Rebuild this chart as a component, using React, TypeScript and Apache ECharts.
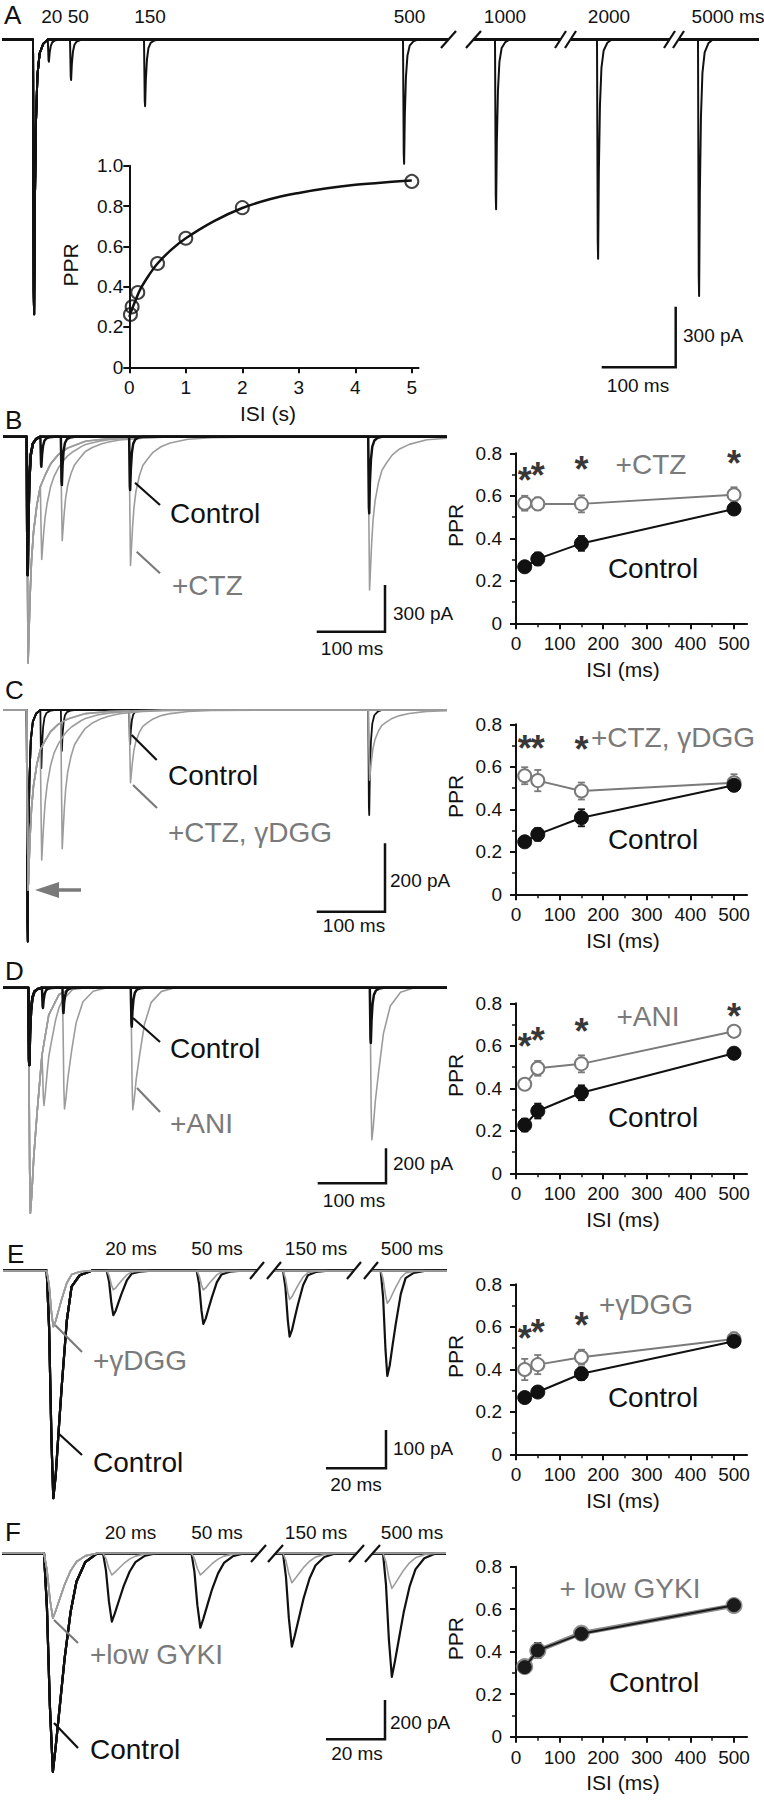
import React, { useEffect, useRef } from "react";
import * as echarts from "echarts";

const FONT = '"Liberation Sans", Arial, Helvetica, sans-serif';
const INK = "#111111";
const GREY_TXT = "#7a7a7a";
const GREY_TRACE = "#9c9c9c";
const GREY_MARK = "#7a7a7a";

/* ======================= DATA ======================= */
// Panel A inset: PPR vs ISI (s)
const aIsiS = [0.02, 0.05, 0.15, 0.5, 1, 2, 5];
const aPpr = [0.262, 0.3, 0.371, 0.515, 0.64, 0.792, 0.922];
const aFitIsiS = [0, 0.05, 0.1, 0.2, 0.35, 0.5, 0.75, 1, 1.5, 2, 2.5, 3, 3.5, 4, 4.5, 5];
const aFitPpr = [0.25, 0.29, 0.325, 0.39, 0.458, 0.515, 0.585, 0.64, 0.725, 0.79, 0.835, 0.865, 0.888, 0.905, 0.917, 0.926];
const aXTicksS = [0, 1, 2, 3, 4, 5];
const aYTicks = [0, 0.2, 0.4, 0.6, 0.8, 1.0];

// Panels B-F: PPR vs ISI (ms)
const pprIsiMs = [20, 50, 150, 500];
const pprXTicks = [0, 100, 200, 300, 400, 500];
const pprXMinor = [50, 150, 250, 350, 450];
const pprYTicks = [0, 0.2, 0.4, 0.6, 0.8];
const pprYMinor = [0.1, 0.3, 0.5, 0.7];

const bCtrl = [0.266, 0.303, 0.376, 0.538];
const bCtrlErr = [0.015, 0.03, 0.035, 0.02];
const bCtz = [0.565, 0.562, 0.562, 0.605];
const bCtzErr = [0.035, 0.03, 0.04, 0.035];
const bStars = [[20, 0.71], [50, 0.735], [150, 0.76], [500, 0.79]];

const cCtrl = [0.247, 0.282, 0.36, 0.513];
const cCtrlErr = [0.015, 0.03, 0.04, 0.025];
const cCtzDgg = [0.558, 0.535, 0.486, 0.525];
const cCtzDggErr = [0.04, 0.05, 0.04, 0.04];
const cStars = [[20, 0.723], [50, 0.723], [150, 0.718]];

const dCtrl = [0.227, 0.293, 0.379, 0.565];
const dCtrlErr = [0.03, 0.035, 0.035, 0.025];
const dAni = [0.419, 0.494, 0.515, 0.668];
const dAniErr = [0.015, 0.035, 0.04, 0.015];
const dStars = [[20, 0.635], [50, 0.663], [150, 0.706], [500, 0.776]];

const eCtrl = [0.267, 0.293, 0.379, 0.532];
const eCtrlErr = [0.02, 0.02, 0.03, 0.02];
const eDgg = [0.399, 0.422, 0.457, 0.543];
const eDggErr = [0.05, 0.045, 0.035, 0.03];
const eStars = [[20, 0.582], [50, 0.613], [150, 0.644]];

const fCtrl = [0.327, 0.406, 0.484, 0.619];
const fCtrlErr = [0.025, 0.035, 0.02, 0.02];
const fGyki = [0.33, 0.405, 0.487, 0.617];
const fGykiErr = [0.03, 0.035, 0.02, 0.02];

// Example traces: peak amplitudes (pA)
const aTraceIsiMs = [20, 50, 150, 500, 1000, 2000, 5000];
const aFirstPa = 1360;
const aSecondPa = [110, 200, 330, 615, 840, 1085, 1270];

const bFirstCtrlPa = 889;
const bSecondCtrlPa = [193, 311, 343, 492];
const bFirstCtzPa = 1455;
const bSecondCtzPa = [490, 570, 820, 985];

const cFirstCtrlPa = 677;
const cSecondCtrlPa = [170, 120, 100, 307];
const cFirstDrugPa = 526;
const cSecondDrugPa = [330, 370, 210, 205];

const dFirstCtrlPa = 442;
const dSecondCtrlPa = [116, 145, 223, 316];
const dFirstAniPa = 1289;
const dSecondAniPa = [356, 670, 697, 869];

const eFirstCtrlPa = 594;
const eSecondCtrlPa = [116, 139, 172, 275];
const eFirstDggPa = 146;
const eSecondDggPa = [50, 50, 75, 85];

const fFirstCtrlPa = 1109;
const fSecondCtrlPa = [347, 378, 474, 627];
const fFirstGykiPa = 330;
const fSecondGykiPa = [110, 110, 149, 178];

// EPSC time courses: ms after stimulus, fraction of peak
const kinFastT = [0, 0.5, 1, 1.5, 2.5, 4, 6, 9, 14, 20];
const kinFastF = [0, 0.45, 0.92, 1, 0.6, 0.3, 0.13, 0.05, 0.015, 0];
const kinCtzT = [0, 1, 2, 3, 5, 7, 10, 15, 20, 27, 35, 46, 60, 86, 120, 200];
const kinCtzF = [0, 0.55, 1, 0.9, 0.7, 0.55, 0.42, 0.3, 0.22, 0.17, 0.12, 0.08, 0.05, 0.02, 0.008, 0];
const kinAniT = [0, 1, 2, 3, 5, 8, 13, 20, 30, 45, 65];
const kinAniF = [0, 0.35, 0.8, 1, 0.92, 0.75, 0.55, 0.3, 0.12, 0.03, 0];
const kinET = [0, 0.8, 1.6, 2.2, 3, 4, 5, 6.7, 8.3, 11, 15];
const kinEF = [0, 0.25, 0.75, 1, 0.9, 0.7, 0.51, 0.22, 0.07, 0.02, 0];
const kinFT = [0, 1, 2, 3, 4, 5.5, 7, 9, 11, 14, 18];
const kinFF = [0, 0.25, 0.7, 1, 0.88, 0.68, 0.48, 0.27, 0.13, 0.04, 0];

// Scale bars [pA, ms]
const scaleA = [300, 100];
const scaleB = [300, 100];
const scaleC = [200, 100];
const scaleD = [200, 100];
const scaleE = [100, 20];
const scaleF = [200, 20];

/* ======================= HELPERS ======================= */
type Kin = { t: number[]; f: number[] };
const KIN_FAST: Kin = { t: kinFastT, f: kinFastF };
const KIN_CTZ: Kin = { t: kinCtzT, f: kinCtzF };
const KIN_ANI: Kin = { t: kinAniT, f: kinAniF };
const KIN_E: Kin = { t: kinET, f: kinEF };
const KIN_F: Kin = { t: kinFT, f: kinFF };

function interp(k: Kin, dt: number) {
  const n = k.t.length;
  if (dt <= k.t[0] || dt >= k.t[n - 1]) return 0;
  for (let i = 1; i < n; i++) {
    if (dt <= k.t[i]) {
      const a = (dt - k.t[i - 1]) / (k.t[i] - k.t[i - 1]);
      return k.f[i - 1] + a * (k.f[i] - k.f[i - 1]);
    }
  }
  return 0;
}

function sweep(k: Kin, events: number[][], tMin: number, tMax: number) {
  const set = new Set<number>([tMin, tMax]);
  events.forEach(([t0]) => k.t.forEach((dt) => set.add(t0 + dt)));
  const ts = Array.from(set).filter((t) => t >= tMin && t <= tMax).sort((a, b) => a - b);
  return ts.map((t) => [t, -events.reduce((s, [t0, amp]) => s + amp * interp(k, t - t0), 0)]);
}

type Seg = { left: number; right: number; refT: number; refPx: number };
type TraceLayout = { baseY: number; pxPerPa: number; pxPerMs: number; padTop: number; padBottom: number; segs: Seg[] };
type Cond = { kin: Kin; first: number; seconds: number[]; isis: number[]; color: string; width: number; z: number };

function text(x: number, y: number, s: string, size: number, color = INK, align = "center", rot = 0) {
  return {
    type: "text",
    x,
    y,
    rotation: rot,
    silent: true,
    z: 20,
    style: {
      text: s,
      x: 0,
      y: 0,
      fill: color,
      font: `${size}px ${FONT}`,
      textAlign: align,
      textVerticalAlign: "middle",
      align,
      verticalAlign: "middle",
    },
  };
}
function line(x1: number, y1: number, x2: number, y2: number, color = INK, w = 2.2) {
  return { type: "line", silent: true, z: 20, shape: { x1, y1, x2, y2 }, style: { stroke: color, lineWidth: w } };
}
function poly(pts: number[][], color = INK, w = 2.5) {
  return { type: "polyline", silent: true, z: 20, shape: { points: pts }, style: { stroke: color, lineWidth: w, fill: "none" } };
}

function buildOption() {
  const grid: any[] = [];
  const xAxis: any[] = [];
  const yAxis: any[] = [];
  const series: any[] = [];
  const graphic: any[] = [];

  const addTraces = (L: TraceLayout, conds: Cond[]) => {
    L.segs.forEach((s) => {
      const gi = grid.length;
      const tMin = s.refT + (s.left - s.refPx) / L.pxPerMs;
      const tMax = s.refT + (s.right - s.refPx) / L.pxPerMs;
      grid.push({
        left: s.left,
        width: s.right - s.left,
        top: L.baseY - L.padTop * L.pxPerPa,
        height: (L.padTop + L.padBottom) * L.pxPerPa,
        outerBoundsMode: "none",
      });
      const xi = xAxis.length;
      xAxis.push({ type: "value", gridIndex: gi, min: tMin, max: tMax, show: false });
      const yi = yAxis.length;
      yAxis.push({ type: "value", gridIndex: gi, min: -L.padBottom, max: L.padTop, show: false });
      conds.forEach((c) =>
        c.isis.forEach((isi, k) => {
          series.push({
            type: "line",
            xAxisIndex: xi,
            yAxisIndex: yi,
            data: sweep(c.kin, [[0, c.first], [isi, c.seconds[k]]], tMin, tMax),
            symbol: "none",
            showSymbol: false,
            silent: true,
            clip: true,
            z: c.z,
            lineStyle: { color: c.color, width: c.width, join: "round" },
          });
        })
      );
    });
  };

  const scaleBar = (L: TraceLayout, cx: number, cy: number, bar: number[]) => {
    graphic.push(
      poly([
        [cx, cy - bar[0] * L.pxPerPa],
        [cx, cy],
        [cx - bar[1] * L.pxPerMs, cy],
      ])
    );
  };

  const addPlotAxes = (
    gi: number,
    c: { xMax: number; xTicks: number[]; xMinor?: number[]; yMax: number; yTicks: number[]; yMinor?: number[]; yFmt: (v: number) => string; xMargin: number; yMargin: number }
  ) => {
    const axisLine = { show: true, onZero: false, lineStyle: { color: INK, width: 2 } };
    const lab = { fontSize: 19, fontFamily: FONT, color: INK };
    const xi = xAxis.length;
    xAxis.push({
      type: "value",
      gridIndex: gi,
      position: "bottom",
      min: 0,
      max: c.xMax,
      axisLine,
      splitLine: { show: false },
      axisTick: { show: true, inside: false, length: 6, lineStyle: { color: INK, width: 2 }, customValues: c.xTicks },
      axisLabel: { show: true, customValues: c.xTicks, margin: c.xMargin, ...lab },
    });
    if (c.xMinor)
      xAxis.push({
        type: "value",
        gridIndex: gi,
        position: "bottom",
        min: 0,
        max: c.xMax,
        axisLine: { show: false },
        splitLine: { show: false },
        axisLabel: { show: false },
        axisTick: { show: true, length: 4, lineStyle: { color: INK, width: 1.5 }, customValues: c.xMinor },
      });
    const yi = yAxis.length;
    yAxis.push({
      type: "value",
      gridIndex: gi,
      position: "left",
      min: 0,
      max: c.yMax,
      axisLine,
      splitLine: { show: false },
      axisTick: { show: true, inside: false, length: 6, lineStyle: { color: INK, width: 2 }, customValues: c.yTicks },
      axisLabel: { show: true, customValues: c.yTicks, margin: c.yMargin, formatter: c.yFmt, ...lab },
    });
    if (c.yMinor)
      yAxis.push({
        type: "value",
        gridIndex: gi,
        position: "left",
        min: 0,
        max: c.yMax,
        axisLine: { show: false },
        splitLine: { show: false },
        axisLabel: { show: false },
        axisTick: { show: true, length: 4, lineStyle: { color: INK, width: 1.5 }, customValues: c.yMinor },
      });
    return { xi, yi };
  };

  const errSeries = (xi: number, yi: number, vals: number[], errs: number[], color: string) => ({
    type: "custom",
    xAxisIndex: xi,
    yAxisIndex: yi,
    silent: true,
    z: 3,
    data: pprIsiMs.map((x, i) => [x, vals[i] - errs[i], vals[i] + errs[i]]),
    renderItem: (_p: any, api: any) => {
      const lo = api.coord([api.value(0), api.value(1)]);
      const hi = api.coord([api.value(0), api.value(2)]);
      const cap = 3.5;
      const st = { stroke: color, lineWidth: 1.8 };
      return {
        type: "group",
        children: [
          { type: "line", shape: { x1: lo[0], y1: lo[1], x2: hi[0], y2: hi[1] }, style: st },
          { type: "line", shape: { x1: lo[0] - cap, y1: lo[1], x2: lo[0] + cap, y2: lo[1] }, style: st },
          { type: "line", shape: { x1: hi[0] - cap, y1: hi[1], x2: hi[0] + cap, y2: hi[1] }, style: st },
        ],
      };
    },
  });

  const lineSeries = (xi: number, yi: number, vals: number[], open: boolean, color: string, z: number, size = 13, w = 2) => ({
    type: "line",
    xAxisIndex: xi,
    yAxisIndex: yi,
    data: pprIsiMs.map((x, i) => [x, vals[i]]),
    symbol: "circle",
    showSymbol: true,
    symbolSize: size,
    silent: true,
    z,
    lineStyle: { color, width: w },
    itemStyle: open ? { color: "#ffffff", borderColor: color, borderWidth: 2 } : { color, borderColor: color, borderWidth: 1 },
  });

  const starSeries = (xi: number, yi: number, stars: number[][]) => ({
    type: "scatter",
    xAxisIndex: xi,
    yAxisIndex: yi,
    data: stars,
    symbolSize: 1,
    silent: true,
    z: 6,
    itemStyle: { color: "rgba(0,0,0,0)" },
    label: {
      show: true,
      formatter: "*",
      position: "inside",
      fontSize: 36,
      fontWeight: "bold",
      fontFamily: FONT,
      color: "#000000",
      offset: [0, 8],
    },
  });

  const fmt1 = (v: number) => (v === 0 ? "0" : v.toFixed(1));

  const PPR_LEFT = 516;
  const PPR_PX_PER_MS = 0.436;
  const PPR_H = 170;
  const PPR_XMAX = 530;

  const addPpr = (
    zeroY: number,
    ctrl: number[],
    ctrlErr: number[],
    drug: number[],
    drugErr: number[],
    stars: number[][] | null,
    overlay = false
  ) => {
    const gi = grid.length;
    grid.push({ left: PPR_LEFT, top: zeroY - PPR_H, width: PPR_XMAX * PPR_PX_PER_MS, height: PPR_H, outerBoundsMode: "none" });
    const { xi, yi } = addPlotAxes(gi, {
      xMax: PPR_XMAX,
      xTicks: pprXTicks,
      xMinor: pprXMinor,
      yMax: 0.8,
      yTicks: pprYTicks,
      yMinor: pprYMinor,
      yFmt: fmt1,
      xMargin: 11,
      yMargin: 14,
    });
    if (overlay) {
      series.push(errSeries(xi, yi, drug, drugErr, GREY_MARK));
      series.push(lineSeries(xi, yi, drug, false, "#8a8a8a", 4, 16, 4.5));
      series.push(errSeries(xi, yi, ctrl, ctrlErr, INK));
      series.push(lineSeries(xi, yi, ctrl, false, "#1a1a1a", 5, 13, 2));
    } else {
      series.push(errSeries(xi, yi, drug, drugErr, GREY_MARK));
      series.push(lineSeries(xi, yi, drug, true, GREY_MARK, 4, 13, 2));
      series.push(errSeries(xi, yi, ctrl, ctrlErr, INK));
      series.push(lineSeries(xi, yi, ctrl, false, INK, 5, 14, 2));
    }
    if (stars) series.push(starSeries(xi, yi, stars));
    graphic.push(text(455.5, zeroY - 98, "PPR", 21, INK, "center", Math.PI / 2));
    graphic.push(text(623, zeroY + 46, "ISI (ms)", 21));
  };

  /* ---------------- Panel A ---------------- */
  const LA: TraceLayout = {
    baseY: 39.5,
    pxPerPa: 0.202,
    pxPerMs: 0.74,
    padTop: 60,
    padBottom: 1420,
    segs: [
      { left: 2, right: 448, refT: 0, refPx: 33 },
      { left: 473, right: 561, refT: 1000, refPx: 495 },
      { left: 571, right: 670, refT: 2000, refPx: 597 },
      { left: 679, right: 759, refT: 5000, refPx: 698 },
    ],
  };
  addTraces(LA, [{ kin: KIN_FAST, first: aFirstPa, seconds: aSecondPa, isis: aTraceIsiMs, color: INK, width: 2, z: 2 }]);
  scaleBar(LA, 675.7, 367.3, scaleA);
  graphic.push(
    line(441, 48, 456, 31),
    line(466, 48, 481, 31),
    line(555, 48, 566, 31),
    line(565, 48, 576, 31),
    line(664, 48, 675, 31),
    line(673, 48, 684, 31)
  );
  graphic.push(
    text(4, 15, "A", 26, INK, "left"),
    text(65, 16, "20 50", 19),
    text(150, 16, "150", 19),
    text(409.5, 16, "500", 19),
    text(505, 16, "1000", 19),
    text(609, 16, "2000", 19),
    text(728, 16, "5000 ms", 19),
    text(683, 335, "300 pA", 19, INK, "left"),
    text(638, 385, "100 ms", 19)
  );
  // inset
  {
    const gi = grid.length;
    grid.push({ left: 129.3, top: 165.7, width: 5.12 * 56.5, height: 201.6, outerBoundsMode: "none" });
    const { xi, yi } = addPlotAxes(gi, {
      xMax: 5.12,
      xTicks: aXTicksS,
      yMax: 1.0,
      yTicks: aYTicks,
      yFmt: fmt1,
      xMargin: 11,
      yMargin: 6,
    });
    series.push({
      type: "line",
      xAxisIndex: xi,
      yAxisIndex: yi,
      data: aFitIsiS.map((x, i) => [x, aFitPpr[i]]),
      smooth: 0.35,
      symbol: "none",
      silent: true,
      z: 3,
      lineStyle: { color: INK, width: 2.5 },
    });
    series.push({
      type: "scatter",
      xAxisIndex: xi,
      yAxisIndex: yi,
      data: aIsiS.map((x, i) => [x, aPpr[i]]),
      symbol: "circle",
      symbolSize: 13,
      silent: true,
      z: 4,
      itemStyle: { color: "rgba(0,0,0,0)", borderColor: INK, borderWidth: 2 },
    });
    graphic.push(text(70, 265, "PPR", 21, INK, "center", Math.PI / 2), text(268, 413, "ISI (s)", 21));
  }

  /* ---------------- Panel B ---------------- */
  const LB: TraceLayout = { baseY: 436.7, pxPerPa: 0.1556, pxPerMs: 0.683, padTop: 100, padBottom: 1500, segs: [{ left: 3, right: 447, refT: 0, refPx: 26.7 }] };
  addTraces(LB, [
    { kin: KIN_CTZ, first: bFirstCtzPa, seconds: bSecondCtzPa, isis: pprIsiMs, color: GREY_TRACE, width: 1.6, z: 2 },
    { kin: KIN_FAST, first: bFirstCtrlPa, seconds: bSecondCtrlPa, isis: pprIsiMs, color: INK, width: 2.5, z: 3 },
  ]);
  scaleBar(LB, 385, 631.7, scaleB);
  graphic.push(
    text(5, 420, "B", 26, INK, "left"),
    line(135, 482.7, 160, 505),
    line(136.7, 551.7, 160, 573.3, GREY_TXT),
    text(170, 513, "Control", 28, INK, "left"),
    text(172, 585, "+CTZ", 28, GREY_TXT, "left"),
    text(393, 613, "300 pA", 19, INK, "left"),
    text(352, 648, "100 ms", 19),
    text(651, 464, "+CTZ", 28, GREY_TXT),
    text(653, 568, "Control", 28)
  );
  addPpr(623.3, bCtrl, bCtrlErr, bCtz, bCtzErr, bStars);

  /* ---------------- Panel C ---------------- */
  const LC: TraceLayout = { baseY: 710, pxPerPa: 0.342, pxPerMs: 0.683, padTop: 40, padBottom: 700, segs: [{ left: 3, right: 447, refT: 0, refPx: 26.7 }] };
  addTraces(LC, [
    { kin: KIN_FAST, first: cFirstCtrlPa, seconds: cSecondCtrlPa, isis: pprIsiMs, color: INK, width: 1.8, z: 2 },
    { kin: KIN_CTZ, first: cFirstDrugPa, seconds: cSecondDrugPa, isis: pprIsiMs, color: GREY_TRACE, width: 1.6, z: 3 },
  ]);
  scaleBar(LC, 385, 911.7, scaleC);
  graphic.push(
    text(5, 690, "C", 26, INK, "left"),
    line(131.7, 735, 156.7, 760),
    line(133, 785, 157, 808, GREY_TXT),
    text(168, 775, "Control", 28, INK, "left"),
    text(168, 832, "+CTZ, γDGG", 28, GREY_TXT, "left"),
    text(390, 880, "200 pA", 19, INK, "left"),
    text(354, 925, "100 ms", 19),
    line(58, 890, 81, 890, GREY_TXT, 3.5),
    { type: "polygon", silent: true, z: 20, shape: { points: [[35, 890], [59, 882], [59, 898]] }, style: { fill: GREY_TXT } },
    text(673, 737, "+CTZ, γDGG", 28, GREY_TXT),
    text(653, 839, "Control", 28)
  );
  addPpr(894.3, cCtrl, cCtrlErr, cCtzDgg, cCtzDggErr, cStars);

  /* ---------------- Panel D ---------------- */
  const LD: TraceLayout = { baseY: 987.7, pxPerPa: 0.175, pxPerMs: 0.683, padTop: 80, padBottom: 1320, segs: [{ left: 3, right: 447, refT: 0, refPx: 28.3 }] };
  addTraces(LD, [
    { kin: KIN_ANI, first: dFirstAniPa, seconds: dSecondAniPa, isis: pprIsiMs, color: GREY_TRACE, width: 1.6, z: 2 },
    { kin: KIN_FAST, first: dFirstCtrlPa, seconds: dSecondCtrlPa, isis: pprIsiMs, color: INK, width: 2.5, z: 3 },
  ]);
  scaleBar(LD, 386, 1183.3, scaleD);
  graphic.push(
    text(5, 971, "D", 26, INK, "left"),
    line(133, 1018, 160, 1042),
    line(137, 1088, 160, 1112, GREY_TXT),
    text(170, 1048, "Control", 28, INK, "left"),
    text(170, 1123, "+ANI", 28, GREY_TXT, "left"),
    text(393, 1163, "200 pA", 19, INK, "left"),
    text(354, 1200, "100 ms", 19),
    text(648, 1016, "+ANI", 28, GREY_TXT),
    text(653, 1117, "Control", 28)
  );
  addPpr(1173.3, dCtrl, dCtrlErr, dAni, dAniErr, dStars);

  /* ---------------- Panel E ---------------- */
  const LE: TraceLayout = {
    baseY: 1270.7,
    pxPerPa: 0.383,
    pxPerMs: 3,
    padTop: 40,
    padBottom: 620,
    segs: [
      { left: 3, right: 257, refT: 0, refPx: 46.7 },
      { left: 274, right: 354, refT: 150, refPx: 283 },
      { left: 371, right: 447, refT: 500, refPx: 380.7 },
    ],
  };
  addTraces(LE, [
    { kin: KIN_E, first: eFirstCtrlPa, seconds: eSecondCtrlPa, isis: pprIsiMs, color: INK, width: 2.2, z: 2 },
    { kin: KIN_E, first: eFirstDggPa, seconds: eSecondDggPa, isis: pprIsiMs, color: GREY_TRACE, width: 1.6, z: 3 },
  ]);
  scaleBar(LE, 386, 1468.3, scaleE);
  graphic.push(
    line(250, 1279, 264, 1262),
    line(267, 1279, 281, 1262),
    line(347, 1279, 361, 1262),
    line(364, 1279, 378, 1262),
    text(7, 1254, "E", 26, INK, "left"),
    text(131, 1248.5, "20 ms", 19),
    text(217, 1248.5, "50 ms", 19),
    text(316, 1248.5, "150 ms", 19),
    text(412, 1248.5, "500 ms", 19),
    line(55, 1325, 82, 1352, GREY_TXT),
    line(58, 1433, 82, 1455),
    text(93, 1360, "+γDGG", 28, GREY_TXT, "left"),
    text(93, 1462, "Control", 28, INK, "left"),
    text(393, 1448, "100 pA", 19, INK, "left"),
    text(356, 1484, "20 ms", 19),
    text(646, 1304, "+γDGG", 28, GREY_TXT),
    text(653, 1397, "Control", 28)
  );
  addPpr(1454.3, eCtrl, eCtrlErr, eDgg, eDggErr, eStars);

  /* ---------------- Panel F ---------------- */
  const LF: TraceLayout = {
    baseY: 1553.3,
    pxPerPa: 0.197,
    pxPerMs: 2.95,
    padTop: 60,
    padBottom: 1140,
    segs: [
      { left: 2, right: 258, refT: 0, refPx: 44 },
      { left: 275, right: 356, refT: 150, refPx: 283 },
      { left: 372, right: 446, refT: 500, refPx: 383 },
    ],
  };
  addTraces(LF, [
    { kin: KIN_F, first: fFirstCtrlPa, seconds: fSecondCtrlPa, isis: pprIsiMs, color: INK, width: 2.2, z: 2 },
    { kin: KIN_F, first: fFirstGykiPa, seconds: fSecondGykiPa, isis: pprIsiMs, color: GREY_TRACE, width: 1.6, z: 3 },
  ]);
  scaleBar(LF, 385, 1739.3, scaleF);
  graphic.push(
    line(251, 1562, 266, 1545),
    line(268, 1562, 283, 1545),
    line(349, 1562, 364, 1545),
    line(365, 1562, 380, 1545),
    text(5, 1532, "F", 26, INK, "left"),
    text(130.5, 1532, "20 ms", 19),
    text(217, 1532, "50 ms", 19),
    text(316, 1532, "150 ms", 19),
    text(412, 1532, "500 ms", 19),
    line(54, 1620, 78, 1643, GREY_TXT),
    line(54, 1723, 78, 1748),
    text(90, 1654, "+low GYKI", 28, GREY_TXT, "left"),
    text(90, 1749, "Control", 28, INK, "left"),
    text(390, 1722, "200 pA", 19, INK, "left"),
    text(357, 1753, "20 ms", 19),
    text(630, 1588, "+ low GYKI", 28, GREY_TXT),
    text(654, 1682, "Control", 28)
  );
  addPpr(1736.7, fCtrl, fCtrlErr, fGyki, fGykiErr, null, true);

  return { animation: false, backgroundColor: "#ffffff", grid, xAxis, yAxis, series, graphic };
}

export default function App() {
  const ref = useRef<HTMLDivElement>(null);
  useEffect(() => {
    if (!ref.current) return;
    const chart = echarts.init(ref.current, null, { renderer: "svg", width: 764, height: 1800 });
    chart.setOption(buildOption() as any);
    return () => chart.dispose();
  }, []);
  return <div ref={ref} style={{ position: "absolute", left: 0, top: 0, width: 764, height: 1800, background: "#fff" }} />;
}
